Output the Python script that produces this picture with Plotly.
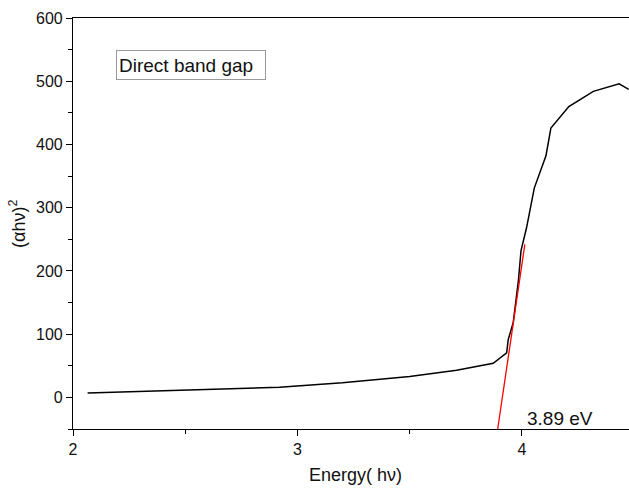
import plotly.graph_objects as go

energy = [2.065, 2.5, 2.92, 3.2, 3.5, 3.709, 3.872, 3.932, 3.939, 3.961, 3.984, 3.996,
          4.021, 4.055, 4.107, 4.129, 4.209, 4.318, 4.433, 4.476]
ahv2 = [7, 11.5, 16, 23, 33, 42.9, 54, 70.3, 91.6, 118, 184, 232,
        269, 331, 382, 426, 460, 484, 496, 487]

fit_x = [3.892, 4.013]
fit_y = [-50, 242]

W, H = 629, 488
L, R, T, B = 73, 0, 18, 59
pw, ph = W - L - R, H - T - B

fig = go.Figure()
fig.add_trace(go.Scatter(x=energy, y=ahv2, mode="lines",
                         line=dict(color="black", width=1.5), showlegend=False))
fig.add_trace(go.Scatter(x=fit_x, y=fit_y, mode="lines",
                         line=dict(color="red", width=1.3), showlegend=False))

font = dict(family="Liberation Sans, Arial", size=16, color="#111")
fig.update_layout(
    width=W, height=H,
    margin=dict(l=L, r=R, t=T, b=B),
    plot_bgcolor="white", paper_bgcolor="white",
    font=font,
    xaxis=dict(range=[2, 4.477], tickvals=[2, 3, 4], ticktext=["2", "3", "4"],
               ticks="outside", ticklen=6, tickwidth=1, tickcolor="black",
               minor=dict(tickvals=[2.5, 3.5], ticks="outside", ticklen=4, tickcolor="black"),
               showline=True, linecolor="black", linewidth=1.2, mirror=True,
               showgrid=False, zeroline=False, automargin=False),
    yaxis=dict(range=[-50, 600], tickvals=[0, 100, 200, 300, 400, 500, 600],
               ticks="outside", ticklen=6, tickwidth=1, tickcolor="black",
               minor=dict(tickvals=[-50, 50, 150, 250, 350, 450, 550], ticks="outside", ticklen=4, tickcolor="black"),
               showline=True, linecolor="black", linewidth=1.2,
               showgrid=False, zeroline=False, automargin=False),
    annotations=[
        dict(x=2.19, y=526, xref="x", yref="y", text="Direct band gap", showarrow=False,
             xanchor="left", yanchor="middle", font=dict(size=19, color="#111"),
             width=144, height=24, align="left",
             bordercolor="#999", borderwidth=1, borderpad=2, bgcolor="white"),
        dict(x=4.171, y=-33, xref="x", yref="y", text="3.89 eV", showarrow=False,
             xanchor="center", yanchor="middle", font=dict(size=19, color="#111")),
        dict(x=(355 - L) / pw, y=(H - B - 475) / ph, xref="paper", yref="paper",
             text="Energy( hν)", showarrow=False,
             xanchor="center", yanchor="middle", font=dict(size=18, color="#111")),
        dict(x=(17 - L) / pw, y=(H - B - 224) / ph, xref="paper", yref="paper",
             text="(αhν)<sup>2</sup>", showarrow=False, textangle=-90,
             xanchor="center", yanchor="middle", font=dict(size=18, color="#111")),
    ],
)
fig.write_html("out.html", config={"displayModeBar": False},
               post_script="document.body.style.margin='0';")
